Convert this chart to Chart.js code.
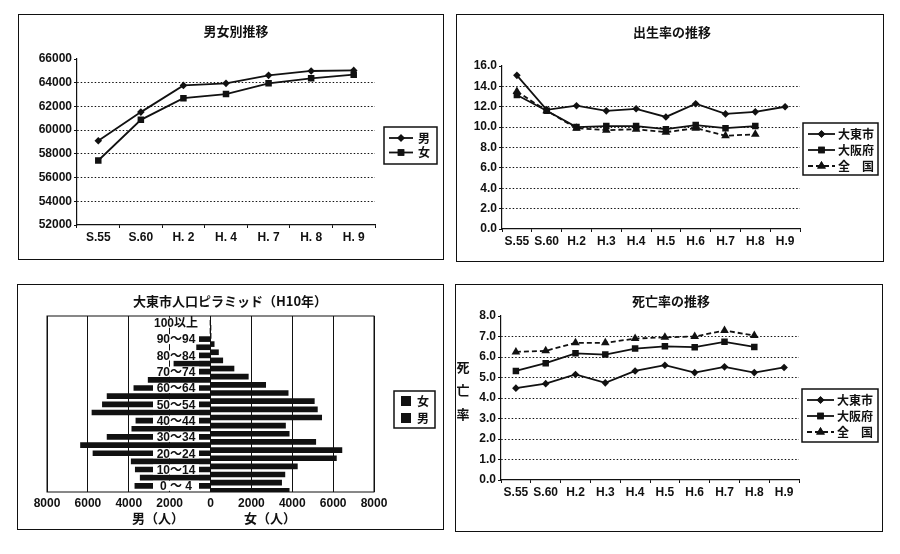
<!DOCTYPE html>
<html>
<head>
<meta charset="utf-8">
<script src="https://cdn.jsdelivr.net/npm/chart.js@4/dist/chart.umd.min.js"></script>
<style>
  body { margin: 0; background: #fff; }
  .panel { position: absolute; box-sizing: border-box; border: 1px solid #111; }
  .panel canvas { position: absolute; left: -1px; top: -1px; }
</style>
</head>
<body>
<div class="panel" style="left:18px;top:14px;width:426px;height:246px"><canvas id="c0" width="426" height="246"></canvas></div>
<div class="panel" style="left:456px;top:14px;width:428px;height:248px"><canvas id="c1" width="428" height="248"></canvas></div>
<div class="panel" style="left:17px;top:284px;width:427px;height:246px"><canvas id="c2" width="427" height="246"></canvas></div>
<div class="panel" style="left:455px;top:284px;width:428px;height:248px"><canvas id="c3" width="428" height="248"></canvas></div>
<script>
const ink = "#111";
const latin = '"Liberation Sans", "Noto Sans CJK JP"';
const cjk = '"Noto Sans CJK JP"';
const rateLabels = ["S.55", "S.60", "H.2", "H.3", "H.4", "H.5", "H.6", "H.7", "H.8", "H.9"];

// ages from 0~4 up to 100 and over
const male = [3700, 3440, 3680, 3880, 5750, 6360, 5060, 3850, 3650, 5800, 5290, 5060, 3750, 3050, 2300, 1790, 1200, 680, 600, 20, 5];
const female = [3850, 3480, 3640, 4250, 6160, 6430, 5150, 3850, 3670, 5440, 5230, 5080, 3800, 2700, 1850, 1150, 600, 390, 180, 30, 10];
const ageLabels = ["0 ～ 4", "10～14", "20～24", "30～34", "40～44", "50～54", "60～64", "70～74", "80～84", "90～94", "100以上"];

function line(label, data, pointStyle, radius, dashed) {
  return {
    "label": label,
    "data": data,
    "fill": false,
    "tension": 0,
    "spanGaps": false,
    "borderWidth": 1.8,
    "borderColor": ink,
    "backgroundColor": ink,
    "borderDash": dashed ? [5, 3] : [],
    "pointStyle": pointStyle,
    "pointRadius": radius,
    "pointBackgroundColor": ink,
    "pointBorderColor": ink,
    "pointBorderWidth": 0,
  };
}

// titles, legends and the other text sit at fixed places in the panel
const panelDecor = {
  "id": "panelDecor",
  afterDatasetsDraw(chart, args, opts) {
    const ctx = chart.ctx;
    const area = chart.chartArea;
    ctx.save();
    ctx.fillStyle = ink;
    ctx.strokeStyle = ink;
    if (opts.frame) {
      ctx.lineWidth = 1;
      ctx.strokeRect(area.left, area.top, area.right - area.left, area.bottom - area.top);
      const y = chart.scales.y;
      ctx.font = "bold 12px " + latin;
      ctx.textAlign = "center";
      ctx.textBaseline = "middle";
      ageLabels.forEach((label, i) => {
        const py = y.getPixelForValue(i * 2);
        ctx.fillStyle = "#fff";
        ctx.fillRect(opts.labelX - 23, py - 7.5, 46, 10);
        ctx.fillStyle = ink;
        ctx.fillText(label, opts.labelX, py - 1.5);
      });
    }
    ctx.textAlign = "center";
    ctx.textBaseline = "middle";
    ctx.font = "bold 13px " + cjk;
    ctx.fillText(opts.title[0], opts.title[1], opts.title[2]);
    (opts.texts || []).forEach(t => ctx.fillText(t[0], t[1], t[2]));

    const lg = opts.legend;
    ctx.lineWidth = 1.5;
    ctx.strokeRect(lg.x, lg.y, lg.w, lg.h);
    ctx.textAlign = "left";
    ctx.font = "bold 12px " + cjk;
    const sets = lg.reverse ? chart.data.datasets.slice().reverse() : chart.data.datasets;
    sets.forEach((ds, i) => {
      const py = lg.y + lg.first + i * lg.step;
      if (lg.swatch) {
        ctx.fillStyle = ds.backgroundColor;
        ctx.fillRect(lg.x + 7, py - 5, 10, 10);
      } else {
        ctx.setLineDash(ds.borderDash);
        ctx.lineWidth = 1.8;
        ctx.beginPath();
        ctx.moveTo(lg.x + 5, py);
        ctx.lineTo(lg.x + lg.lineW, py);
        ctx.stroke();
        ctx.setLineDash([]);
        Chart.helpers.drawPoint(ctx, {"pointStyle": ds.pointStyle, "rotation": 0, "radius": ds.pointRadius, "borderWidth": 0}, lg.x + 5 + (lg.lineW - 5) / 2, py);
        ctx.fill();
      }
      ctx.fillStyle = ink;
      ctx.fillText(ds.label, lg.x + lg.textX, py);
    });
    ctx.restore();
  },
};
Chart.register(panelDecor);

function lineChart(id, box, labels, datasets, yOpts, decor) {
  return new Chart(document.getElementById(id), {
    "type": "line",
    "data": {"labels": labels, "datasets": datasets},
    "options": {
      "responsive": false,
      "animation": false,
      "layout": {"padding": {"left": box.left - 40, "right": box.w - box.right, "top": box.top, "bottom": box.h - box.bottom - 30}},
      "plugins": {"legend": {"display": false}, "tooltip": {"enabled": false}, "panelDecor": decor},
      "scales": {
        "x": {
          "offset": true,
          "afterFit": s => { s.height = 30; },
          "grid": {"offset": true, "drawOnChartArea": false, "tickLength": 3, "tickColor": ink, "tickWidth": 1},
          "border": {"color": ink, "width": 1.2},
          "ticks": {"color": ink, "padding": 2, "maxRotation": 0, "autoSkip": false, "font": {"family": latin, "size": 12, "weight": "bold"}},
        },
        "y": {
          "min": yOpts.min,
          "max": yOpts.max,
          "afterFit": s => { s.width = 40; },
          "grid": {
            "tickLength": 3,
            "tickColor": ink,
            "lineWidth": 1,
            "color": c => (c.tick && (c.tick.value === yOpts.max || c.tick.value === yOpts.min)) ? "rgba(0,0,0,0)" : ink,
          },
          "border": {"color": ink, "width": 1.2, "dash": [1.5, 2]},
          "ticks": {
            "color": ink,
            "padding": 2,
            "stepSize": yOpts.step,
            "font": {"family": latin, "size": 12, "weight": "bold"},
            "callback": v => yOpts.digits ? v.toFixed(yOpts.digits) : String(v),
          },
        },
      },
    },
  });
}

lineChart("c0", {"left": 59, "right": 357, "top": 45, "bottom": 211, "w": 426, "h": 246},
  ["S.55", "S.60", "H. 2", "H. 4", "H. 7", "H. 8", "H. 9"],
  [
    line("男", [59100, 61520, 63775, 63945, 64620, 64990, 65040], "rectRot", 3.8),
    line("女", [57440, 60870, 62700, 63040, 63945, 64370, 64680], "rect", 4.6),
  ],
  {"min": 52000, "max": 66000, "step": 2000, "digits": 0},
  {
    "title": ["男女別推移", 218, 17],
    "legend": {"x": 366, "y": 113, "w": 53, "h": 37, "first": 11, "step": 14.5, "lineW": 29, "textX": 34},
  });

lineChart("c1", {"left": 46, "right": 344, "top": 52, "bottom": 215, "w": 428, "h": 248},
  rateLabels,
  [
    line("大東市", [15.08, 11.7, 12.1, 11.6, 11.8, 11.0, 12.3, 11.3, 11.5, 12.0], "rectRot", 3.8),
    line("大阪府", [13.15, 11.6, 10.0, 10.1, 10.1, 9.8, 10.2, 9.9, 10.1, null], "rect", 4.6),
    line("全　国", [13.5, 11.6, 9.9, 9.7, 9.8, 9.5, 9.9, 9.15, 9.3, null], "triangle", 5, true),
  ],
  {"min": 0, "max": 16, "step": 2, "digits": 1},
  {
    "title": ["出生率の推移", 216, 18],
    "legend": {"x": 347, "y": 109, "w": 75, "h": 52, "first": 11, "step": 16, "lineW": 32, "textX": 35},
  });

lineChart("c3", {"left": 46, "right": 344, "top": 32, "bottom": 196, "w": 428, "h": 248},
  rateLabels,
  [
    line("大東市", [4.48, 4.7, 5.15, 4.74, 5.32, 5.6, 5.24, 5.52, 5.24, 5.49], "rectRot", 3.8),
    line("大阪府", [5.32, 5.7, 6.18, 6.12, 6.41, 6.52, 6.48, 6.74, 6.49, null], "rect", 4.6),
    line("全　国", [6.25, 6.3, 6.69, 6.69, 6.9, 6.96, 7.0, 7.29, 7.05, null], "triangle", 5, true),
  ],
  {"min": 0, "max": 8, "step": 1, "digits": 1},
  {
    "title": ["死亡率の推移", 216, 17],
    "texts": [["死", 8, 83], ["亡", 8, 106], ["率", 8, 130]],
    "legend": {"x": 347, "y": 105, "w": 76, "h": 53, "first": 11, "step": 16, "lineW": 32, "textX": 35},
  });

new Chart(document.getElementById("c2"), {
  "type": "bar",
  "data": {
    "datasets": [
      {"label": "男", "data": male.map((v, i) => ({"x": -v, "y": i})), "backgroundColor": ink, "barThickness": 5},
      {"label": "女", "data": female.map((v, i) => ({"x": v, "y": i})), "backgroundColor": ink, "barThickness": 5},
    ],
  },
  "options": {
    "indexAxis": "y",
    "responsive": false,
    "animation": false,
    "layout": {"padding": {"left": 30, "right": 70, "top": 32, "bottom": 8}},
    "plugins": {
      "legend": {"display": false},
      "tooltip": {"enabled": false},
      "panelDecor": {
        "frame": true,
        "labelX": 159,
        "title": ["大東市人口ピラミッド（H10年）", 213, 17],
        "texts": [["男（人）", 141, 234], ["女（人）", 253, 234]],
        "legend": {"x": 377, "y": 107, "w": 41, "h": 37, "first": 10, "step": 17, "swatch": true, "reverse": true, "textX": 23},
      },
    },
    "scales": {
      "x": {
        "min": -8000,
        "max": 8000,
        "afterFit": s => { s.height = 30; },
        "grid": {"color": ink, "lineWidth": 1, "drawTicks": false},
        "border": {"display": false},
        "ticks": {
          "color": ink,
          "padding": 4,
          "stepSize": 2000,
          "maxRotation": 0,
          "font": {"family": latin, "size": 12, "weight": "bold"},
          "callback": v => String(Math.abs(v)),
        },
      },
      "y": {
        "type": "linear",
        "display": false,
        "offset": false,
        "min": -0.45,
        "max": 21.14,
        "grid": {"display": false},
      },
    },
  },
});
</script>
</body>
</html>
